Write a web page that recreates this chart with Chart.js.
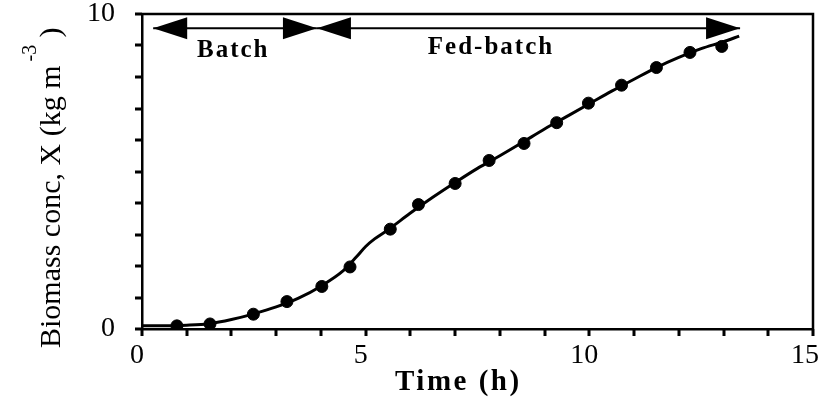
<!DOCTYPE html>
<html>
<head>
<meta charset="utf-8">
<script src="https://cdn.jsdelivr.net/npm/chart.js@4.4.0/dist/chart.umd.min.js"></script>
<style>
    html, body { margin: 0; padding: 0; background: #fff; }
    #wrap { width: 823px; height: 400px; }
</style>
</head>
<body>
<div id="wrap"><canvas id="graficoBiomassa"></canvas></div>
<script>
// Dados
const obsTime = [0.78, 1.52, 2.49, 3.24, 4.02, 4.65, 5.55, 6.18, 7.0, 7.76, 8.54, 9.27, 9.98, 10.72, 11.5, 12.25, 12.96];
const obsBiomass = [0.1, 0.16, 0.47, 0.87, 1.35, 1.97, 3.17, 3.95, 4.62, 5.35, 5.89, 6.55, 7.17, 7.74, 8.3, 8.78, 8.97];

const fitTime = [0, 0.5, 1.0, 1.5, 2.0, 2.5, 3.0, 3.5, 4.0, 4.5, 4.8, 5.0, 5.2, 5.5, 6.0, 6.5, 7.0, 7.5, 8.0, 8.5, 9.0, 9.5, 10.0, 10.5, 11.0, 11.5, 12.0, 12.5, 13.0, 13.35];
const fitBiomass = [0.1, 0.1, 0.12, 0.17, 0.3, 0.48, 0.7, 0.98, 1.36, 1.85, 2.3, 2.62, 2.86, 3.15, 3.68, 4.18, 4.65, 5.1, 5.5, 5.92, 6.35, 6.75, 7.15, 7.55, 7.93, 8.3, 8.62, 8.9, 9.12, 9.3];

const xTickLabels = [0, 5, 10, 15];
const yTickLabels = [0, 10];
const xMinorStep = 1;
const yMinorStep = 1;

// Fases do cultivo (setas no topo)
const phaseNames = ['Batch', 'Fed-batch'];
const phaseStart = [0.25, 3.91];
const phaseEnd = [3.91, 13.37];
const phaseLevel = 9.55;

const SERIF = "'Liberation Serif', 'Times New Roman', serif";

function desenharSeta(ctx, xTip, y, dir) {
    const len = 34, half = 11;
    ctx.beginPath();
    ctx.moveTo(xTip, y);
    ctx.lineTo(xTip - dir * len, y - half);
    ctx.lineTo(xTip - dir * len, y + half);
    ctx.closePath();
    ctx.fill();
}

const molduraPlugin = {
    id: 'moldura',
    afterDraw(chart) {
        const { ctx, chartArea: a, scales: { x, y } } = chart;
        ctx.save();
        ctx.strokeStyle = '#000';
        ctx.fillStyle = '#000';

        // borda de cima e da direita
        ctx.lineWidth = 2.5;
        ctx.beginPath();
        ctx.moveTo(a.left, a.top);
        ctx.lineTo(a.right, a.top);
        ctx.lineTo(a.right, a.bottom);
        ctx.stroke();

        // marcas dos eixos (para fora)
        for (let v = x.min; v <= x.max + 1e-9; v += xMinorStep) {
            const px = Math.round(x.getPixelForValue(v));
            ctx.fillRect(px - 1.5, a.bottom, 3, 7);
        }
        for (let v = y.min; v <= y.max + 1e-9; v += yMinorStep) {
            const py = Math.round(y.getPixelForValue(v));
            ctx.fillRect(a.left - 7, py - 1.5, 7, 3);
        }

        // rótulos do eixo x
        ctx.font = `28px ${SERIF}`;
        ctx.textAlign = 'center';
        ctx.textBaseline = 'middle';
        xTickLabels.forEach(v => {
            const s = String(v);
            const half = ctx.measureText(s).width / 2;
            const px = Math.min(x.getPixelForValue(v) - 5, chart.width - 4 - half);
            ctx.fillText(s, px, a.bottom + 27);
        });

        // setas das fases
        const yy = y.getPixelForValue(phaseLevel);
        ctx.lineWidth = 2;
        phaseNames.forEach((nome, i) => {
            const x0 = x.getPixelForValue(phaseStart[i]);
            const x1 = x.getPixelForValue(phaseEnd[i]);
            ctx.beginPath();
            ctx.moveTo(x0, yy);
            ctx.lineTo(x1, yy);
            ctx.stroke();
            desenharSeta(ctx, x0, yy, -1);
            desenharSeta(ctx, x1, yy, 1);
        });

        // rótulos das fases
        const rotuloT = [1.23, 6.39];
        const rotuloY = [8.63, 8.73];
        ctx.font = `bold 25px ${SERIF}`;
        ctx.letterSpacing = '2px';
        ctx.textAlign = 'left';
        ctx.textBaseline = 'alphabetic';
        phaseNames.forEach((nome, i) => {
            ctx.fillText(nome, x.getPixelForValue(rotuloT[i]), y.getPixelForValue(rotuloY[i]));
        });

        // título do eixo x
        ctx.font = `bold 29px ${SERIF}`;
        ctx.letterSpacing = '2.5px';
        ctx.fillText('Time (h)', 395, 390);

        // título do eixo y com expoente
        ctx.letterSpacing = '0px';
        ctx.translate(60, 348);
        ctx.rotate(-Math.PI / 2);
        ctx.font = `30px ${SERIF}`;
        const principal = 'Biomass conc, X (kg m';
        ctx.fillText(principal, 0, 0);
        const w = ctx.measureText(principal).width;
        ctx.font = `20px ${SERIF}`;
        ctx.fillText('-3', w + 4, -24);
        ctx.font = `30px ${SERIF}`;
        ctx.fillText(')', w + 28, 0);
        ctx.restore();
    }
};

const eixoComum = {
    type: 'linear',
    border: { display: true, color: '#000', width: 2.5 },
    grid: { display: false, drawTicks: true, tickLength: 7 },
};

new Chart(document.getElementById('graficoBiomassa'), {
    type: 'scatter',
    data: {
        datasets: [
            {
                label: 'Modelo',
                data: fitTime.map((t, i) => ({ x: t, y: fitBiomass[i] })),
                showLine: true,
                borderColor: '#000',
                borderWidth: 3,
                pointRadius: 0,
                cubicInterpolationMode: 'monotone',
                fill: false
            },
            {
                label: 'Experimental',
                data: obsTime.map((t, i) => ({ x: t, y: obsBiomass[i] })),
                backgroundColor: '#000',
                borderColor: '#000',
                pointRadius: 6,
                pointStyle: 'circle'
            }
        ]
    },
    options: {
        responsive: true,
        maintainAspectRatio: false,
        animation: false,
        layout: { padding: { top: 14, right: 10, left: 0, bottom: 0 } },
        plugins: { legend: { display: false }, tooltip: { enabled: false } },
        scales: {
            x: {
                ...eixoComum,
                min: 0, max: 15,
                ticks: {
                    stepSize: 1, autoSkip: false, maxRotation: 0,
                    callback: () => ''
                },
                afterFit(scale) {
                    scale.height = 71;
                    scale.paddingLeft = 0;
                    scale.paddingRight = 0;
                }
            },
            y: {
                ...eixoComum,
                min: 0, max: 10,
                ticks: {
                    stepSize: 1, autoSkip: false, padding: 20,
                    color: '#000', font: { family: SERIF, size: 28 },
                    callback: v => yTickLabels.includes(v) ? String(v) : ''
                },
                afterFit(scale) {
                    scale.width = 142;
                    scale.paddingTop = 0;
                    scale.paddingBottom = 0;
                }
            }
        }
    },
    plugins: [molduraPlugin]
});
</script>
</body>
</html>
